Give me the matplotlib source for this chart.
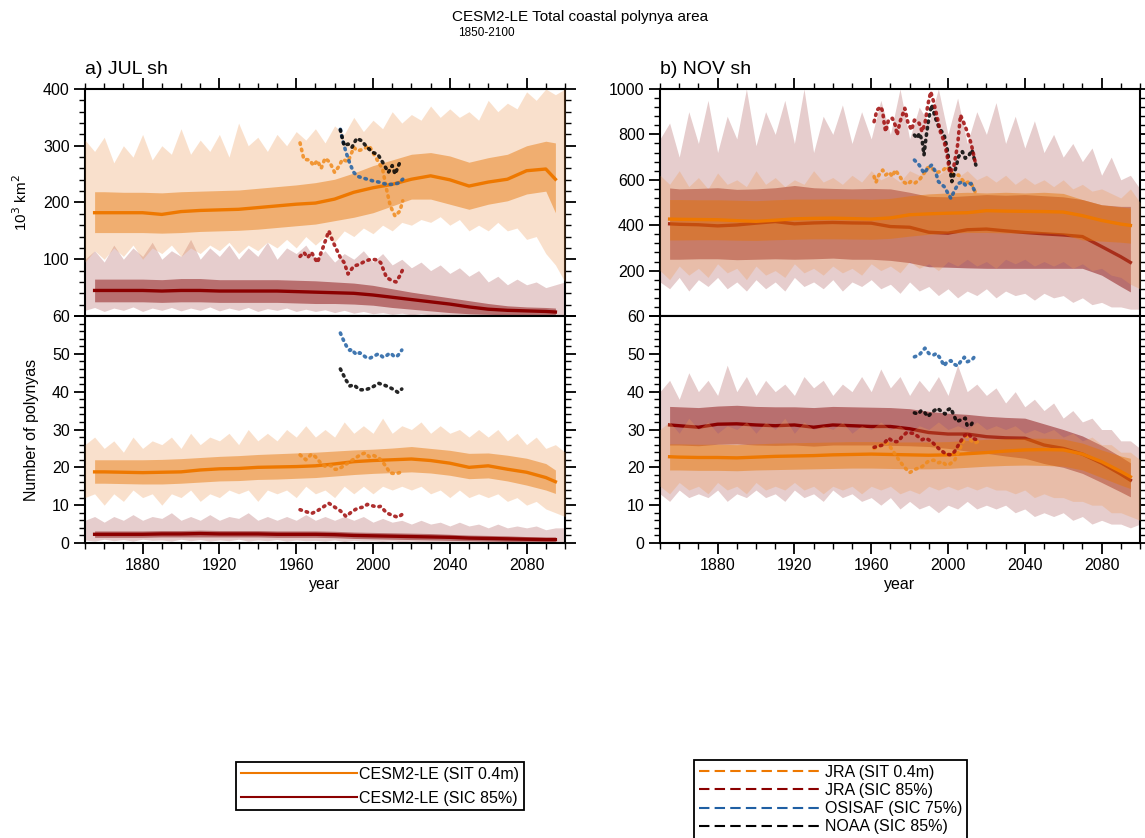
import matplotlib
matplotlib.use('Agg')
import matplotlib.pyplot as plt
from matplotlib.lines import Line2D
from matplotlib.ticker import MultipleLocator

plt.rcParams['font.family'] = ['Liberation Sans', 'DejaVu Sans']

# ---------------- 数据 ----------------
# 平滑后的集合平均 / 四分位带 (年份)
yrs_mean = [1855, 1860, 1870, 1880, 1890, 1900, 1910, 1920, 1930, 1940, 1950, 1960,
            1970, 1980, 1990, 2000, 2010, 2020, 2030, 2040, 2050, 2060, 2070, 2080, 2090, 2095]
# 最小/最大包络 (每5年)
yrs_env = list(range(1850, 2101, 5))

# a) JUL 面积
a_area_sit_mean = [182, 182, 182, 182, 179, 184, 186, 187, 188, 191, 194, 197,
                   199, 206, 218, 226, 232, 241, 247, 240, 229, 236, 241, 256, 259, 241]
a_area_sit_hi = [219, 219, 218, 218, 217, 219, 220, 221, 222, 225, 228, 231,
                 235, 241, 252, 265, 275, 285, 288, 282, 271, 279, 285, 300, 308, 305]
a_area_sit_lo = [147, 147, 147, 147, 146, 147, 149, 150, 151, 153, 156, 159,
                 162, 168, 174, 182, 194, 206, 206, 197, 188, 197, 203, 215, 220, 182]
a_area_sit_max = [310, 290, 315, 270, 300, 280, 320, 275, 300, 285,
                  330, 285, 310, 290, 320, 280, 340, 300, 315, 290,
                  320, 300, 325, 310, 330, 305, 335, 320, 350, 325,
                  345, 330, 360, 340, 355, 345, 370, 350, 365, 350,
                  360, 345, 380, 360, 375, 365, 395, 380, 400, 390,
                  400]
a_area_sit_min = [95, 115, 100, 120, 105, 125, 100, 120, 110, 125,
                  105, 120, 110, 125, 115, 130, 110, 125, 115, 130,
                  120, 135, 120, 140, 125, 140, 130, 150, 140, 155,
                  145, 160, 150, 165, 160, 170, 165, 175, 160, 170,
                  150, 160, 150, 165, 150, 155, 135, 140, 110, 90,
                  60]
a_area_sic_mean = [45, 45, 45, 45, 44, 45, 45, 44, 44, 44, 44, 43,
                   42, 41, 40, 37, 33, 29, 25, 21, 16, 12, 10, 9, 8, 7]
a_area_sic_hi = [65, 65, 65, 65, 64, 66, 66, 64, 64, 64, 64, 63,
                 62, 60, 58, 54, 48, 42, 37, 32, 27, 22, 18, 16, 15, 14]
a_area_sic_lo = [25, 25, 25, 25, 24, 25, 25, 24, 24, 24, 24, 23,
                 22, 22, 21, 19, 15, 12, 9, 6, 4, 3, 2, 2, 1, 1]
a_area_sic_max = [100, 115, 95, 125, 100, 120, 105, 130, 100, 115,
                  105, 135, 100, 120, 105, 125, 100, 120, 105, 130,
                  100, 120, 110, 125, 100, 115, 95, 110, 100, 115,
                  95, 110, 90, 100, 85, 95, 80, 90, 75, 85,
                  70, 80, 60, 70, 55, 65, 55, 60, 50, 55,
                  60]
a_area_sic_min = [10, 15, 8, 14, 10, 16, 8, 14, 10, 15,
                  9, 14, 10, 16, 9, 14, 10, 15, 8, 13,
                  10, 14, 8, 12, 8, 11, 6, 10, 5, 8,
                  4, 6, 3, 5, 2, 4, 2, 3, 1, 2,
                  1, 2, 1, 1, 0, 1, 0, 1, 0, 1,
                  0]

# a) JUL 个数
a_num_sit_mean = [18.8, 18.8, 18.7, 18.6, 18.7, 18.8, 19.3, 19.6, 19.7, 20.0, 20.1, 20.2,
                  20.4, 20.9, 21.5, 21.8, 22.0, 22.2, 21.8, 21.1, 20.0, 20.4, 19.5, 18.7, 17.3, 16.2]
a_num_sit_hi = [22.0, 22.0, 22.0, 22.0, 22.1, 22.3, 22.6, 22.9, 23.1, 23.4, 23.6, 23.8,
                24.0, 24.3, 24.6, 24.8, 25.1, 25.5, 25.0, 24.5, 23.7, 23.8, 23.2, 22.4, 21.0, 19.3]
a_num_sit_lo = [15.8, 15.8, 15.7, 15.6, 15.6, 15.8, 16.1, 16.4, 16.5, 16.8, 16.9, 17.1,
                17.3, 17.7, 18.1, 18.4, 18.6, 18.8, 18.5, 17.9, 17.0, 17.2, 16.4, 15.3, 14.0, 13.1]
a_num_sit_max = [26, 28, 25, 27, 24, 28, 25, 27, 26, 28,
                 25, 29, 26, 28, 27, 29, 26, 30, 27, 29,
                 27, 30, 28, 31, 28, 30, 28, 32, 29, 31,
                 29, 33, 29, 31, 30, 32, 29, 31, 29, 30,
                 28, 30, 28, 30, 27, 29, 26, 28, 25, 26,
                 24]
a_num_sit_min = [12, 13, 10, 13, 11, 14, 12, 13, 10, 13,
                 12, 14, 11, 13, 12, 14, 13, 14, 11, 14,
                 13, 14, 12, 15, 13, 14, 12, 15, 13, 15,
                 13, 15, 14, 15, 14, 15, 13, 14, 12, 14,
                 12, 13, 12, 13, 11, 12, 10, 11, 9, 8,
                 7]
a_num_sic_mean = [2.3, 2.3, 2.3, 2.3, 2.4, 2.4, 2.5, 2.4, 2.4, 2.4, 2.3, 2.3,
                  2.3, 2.2, 2.0, 1.9, 1.8, 1.7, 1.6, 1.5, 1.3, 1.2, 1.1, 1.0, 0.9, 0.9]
a_num_sic_hi = [3.2, 3.2, 3.2, 3.2, 3.3, 3.3, 3.4, 3.3, 3.3, 3.3, 3.2, 3.2,
                3.2, 3.1, 2.9, 2.8, 2.7, 2.6, 2.5, 2.3, 2.1, 2.0, 1.9, 1.7, 1.6, 1.6]
a_num_sic_lo = [1.5, 1.5, 1.5, 1.5, 1.6, 1.6, 1.6, 1.6, 1.6, 1.6, 1.5, 1.5,
                1.5, 1.4, 1.2, 1.1, 1.0, 0.9, 0.8, 0.7, 0.6, 0.5, 0.4, 0.4, 0.3, 0.3]
a_num_sic_max = [6, 7, 5.5, 7, 6, 7.5, 6, 7, 6.5, 8,
                 6, 7, 6, 7.5, 6, 7, 6.5, 8, 6, 7,
                 6, 7, 6, 7.5, 6, 7, 6, 7, 6, 7,
                 5.5, 6.5, 5.5, 6, 5, 6, 5, 5.5, 4.5, 5.5,
                 4.5, 5, 4, 5, 4, 4.5, 4, 4.5, 3.5, 4,
                 4]
a_num_sic_min = [0.8, 0.5, 1.0, 0.6, 0.9, 0.5, 1.0, 0.7, 0.8, 0.5,
                 1.0, 0.6, 0.9, 0.5, 0.8, 0.6, 1.0, 0.5, 0.8, 0.6,
                 0.9, 0.5, 0.8, 0.6, 0.7, 0.5, 0.8, 0.4, 0.7, 0.5,
                 0.6, 0.4, 0.6, 0.3, 0.5, 0.3, 0.4, 0.2, 0.4, 0.2,
                 0.3, 0.2, 0.3, 0.1, 0.2, 0.1, 0.2, 0.1, 0.1, 0.0,
                 0.1]

# b) NOV 面积
b_area_sit_mean = [427, 426, 425, 424, 420, 417, 422, 428, 430, 431, 429, 427,
                   432, 446, 450, 453, 455, 464, 462, 461, 460, 458, 442, 421, 405, 399]
b_area_sit_hi = [513, 513, 512, 512, 510, 508, 512, 515, 515, 516, 516, 514,
                 518, 530, 538, 542, 545, 542, 545, 542, 545, 540, 513, 490, 480, 476]
b_area_sit_lo = [335, 335, 336, 336, 334, 333, 336, 338, 340, 340, 339, 338,
                 342, 352, 360, 365, 368, 368, 366, 365, 365, 360, 335, 330, 325, 321]
b_area_sit_max = [620, 580, 640, 570, 610, 560, 630, 580, 600, 570,
                  640, 580, 610, 570, 600, 580, 640, 590, 610, 580,
                  620, 590, 640, 600, 620, 590, 640, 620, 660, 620,
                  650, 610, 640, 600, 620, 590, 620, 580, 610, 580,
                  600, 570, 600, 560, 580, 550, 560, 540, 520, 560,
                  500]
b_area_sit_min = [200, 160, 220, 180, 210, 170, 230, 190, 210, 160,
                  220, 180, 200, 170, 230, 190, 210, 180, 220, 190,
                  210, 180, 230, 200, 220, 190, 240, 210, 230, 200,
                  240, 220, 250, 220, 240, 210, 250, 230, 250, 220,
                  240, 220, 240, 210, 230, 200, 210, 180, 170, 140,
                  120]
b_area_sic_mean = [406, 404, 402, 397, 401, 409, 416, 406, 410, 412, 410, 409,
                   394, 391, 369, 365, 380, 383, 375, 368, 362, 357, 350, 306, 261, 236]
b_area_sic_hi = [564, 560, 562, 565, 558, 560, 565, 575, 565, 562, 560, 562,
                 560, 545, 527, 525, 530, 535, 532, 535, 530, 525, 513, 490, 483, 483]
b_area_sic_lo = [250, 250, 252, 252, 248, 250, 252, 250, 252, 255, 250, 250,
                 245, 235, 217, 215, 212, 210, 210, 210, 210, 210, 210, 180, 130, 106]
b_area_sic_max = [780, 850, 700, 900, 760, 950, 720, 880, 780, 1000,
                  750, 900, 800, 950, 760, 1000, 720, 880, 800, 930,
                  760, 900, 780, 950, 800, 1000, 780, 920, 850, 1000,
                  800, 960, 760, 900, 800, 940, 760, 880, 740, 860,
                  720, 800, 700, 760, 680, 740, 620, 700, 600, 620,
                  560]
b_area_sic_min = [150, 120, 170, 110, 160, 130, 170, 120, 150, 110,
                  160, 120, 150, 110, 170, 130, 150, 120, 160, 110,
                  150, 130, 160, 120, 140, 100, 150, 110, 130, 90,
                  120, 80, 110, 90, 120, 80, 110, 90, 100, 70,
                  100, 80, 90, 60, 80, 50, 60, 40, 40, 30,
                  30]

# b) NOV 个数
b_num_sit_mean = [22.8, 22.7, 22.6, 22.6, 22.5, 22.7, 22.9, 23.0, 23.1, 23.3, 23.4, 23.5,
                  23.4, 23.3, 23.2, 23.3, 23.6, 23.9, 24.3, 24.6, 24.7, 24.6, 23.5, 21.5, 18.9, 17.5]
b_num_sit_hi = [26.2, 26.2, 26.1, 26.1, 26.0, 26.2, 26.4, 26.5, 26.6, 26.7, 26.8, 26.8,
                26.7, 26.7, 26.7, 26.8, 27.1, 27.4, 27.6, 27.7, 27.7, 27.5, 26.4, 24.6, 23.0, 22.4]
b_num_sit_lo = [19.3, 19.3, 19.2, 19.2, 19.1, 19.3, 19.4, 19.5, 19.6, 19.7, 19.8, 19.8,
                19.7, 19.6, 19.6, 19.7, 20.0, 20.3, 20.5, 20.6, 20.5, 20.3, 19.3, 17.3, 15.3, 14.4]
b_num_sit_max = [30, 32, 29, 33, 30, 32, 29, 31, 30, 32,
                 29, 32, 30, 33, 29, 32, 30, 31, 30, 32,
                 29, 31, 30, 32, 30, 31, 29, 31, 30, 32,
                 30, 31, 30, 32, 30, 31, 30, 31, 29, 30,
                 29, 30, 28, 29, 27, 28, 26, 26, 24, 24,
                 22]
b_num_sit_min = [15, 13, 16, 14, 15, 13, 16, 14, 15, 13,
                 16, 14, 15, 14, 16, 14, 15, 13, 15, 14,
                 15, 13, 15, 14, 15, 13, 14, 13, 15, 14,
                 15, 14, 15, 14, 15, 14, 14, 13, 14, 12,
                 13, 12, 12, 11, 11, 10, 10, 8, 8, 7,
                 6]
b_num_sic_mean = [31.2, 31.0, 30.6, 31.4, 31.5, 31.2, 31.0, 31.2, 30.6, 31.2, 31.0, 30.8,
                  30.8, 30.2, 29.2, 28.8, 28.8, 28.1, 27.8, 27.7, 25.9, 25.0, 23.5, 21.1, 18.2, 16.6]
b_num_sic_hi = [36.1, 36.0, 35.8, 36.2, 36.4, 36.1, 36.0, 36.0, 35.8, 36.1, 36.0, 35.9,
                35.8, 35.5, 34.8, 34.3, 34.0, 33.5, 33.2, 33.0, 31.5, 30.0, 28.3, 25.8, 22.8, 21.2]
b_num_sic_lo = [25.9, 25.9, 25.7, 26.1, 26.2, 25.9, 25.8, 25.9, 25.6, 25.9, 25.9, 25.9,
                25.8, 25.7, 25.5, 25.0, 24.3, 23.7, 23.0, 22.4, 21.0, 20.0, 18.4, 16.0, 13.5, 12.2]
b_num_sic_max = [40, 43, 38, 45, 40, 43, 39, 47, 40, 44,
                 39, 43, 40, 42, 39, 44, 41, 43, 39, 42,
                 40, 44, 40, 46, 41, 44, 39, 43, 40, 44,
                 39, 47, 40, 42, 39, 41, 37, 40, 36, 38,
                 35, 37, 33, 35, 32, 33, 30, 30, 27, 27,
                 25]
b_num_sic_min = [13, 11, 14, 12, 13, 12, 14, 11, 13, 12,
                 14, 12, 13, 11, 14, 12, 13, 11, 14, 12,
                 13, 11, 12, 10, 12, 9, 11, 9, 10, 8,
                 10, 9, 11, 9, 10, 9, 10, 8, 9, 7,
                 8, 7, 8, 6, 7, 5, 6, 5, 5, 4,
                 5]

# 观测 / 再分析
a_area_jra_sit_yr = [1962, 1964, 1967, 1969, 1971, 1973, 1975, 1977.5, 1980, 1982.5, 1984, 1987,
                     1990, 1992, 1995, 1998, 2000, 2002, 2005, 2007, 2009, 2011.5, 2014, 2015.5]
a_area_jra_sit = [305, 276, 275, 265, 274, 260, 278, 271, 253, 265, 276, 272,
                  297, 291, 294, 300, 288, 276, 259, 224, 194, 176, 185, 203]
a_area_jra_sic_yr = [1962, 1964, 1966, 1968, 1971, 1974, 1977, 1979, 1980.5, 1983, 1985, 1987,
                     1990, 1993, 1996, 1999, 2002, 2004, 2007, 2010, 2012, 2014, 2015.5]
a_area_jra_sic = [105, 112, 103, 112, 94, 121, 150, 132, 121, 103, 94, 74,
                  88, 91, 97, 100, 99, 94, 68, 62, 60, 71, 82]
a_area_osi_yr = [1983, 1984, 1986, 1988, 1990, 1992, 1996, 2000, 2003, 2007, 2010.5, 2013, 2015.5]
a_area_osi = [329, 312, 288, 268, 253, 246, 242, 238, 236, 232, 232, 234, 241]
a_area_noaa_yr = [1983, 1985, 1987, 1989, 1991.5, 1994, 1997, 2000, 2002.5, 2005, 2008, 2010,
                  2011.5, 2014, 2015]
a_area_noaa = [328, 300, 303, 297, 313, 309, 297, 288, 285, 271, 253, 265, 250, 271, 272]

a_num_osi_yr = list(range(1983, 2016))
a_num_osi = [55.5, 54.3, 53.2, 52.2, 51.3, 50.9, 51.2, 50.5, 50.0, 49.8,
             50.3, 50.0, 49.6, 49.2, 48.9, 48.8, 49.0, 49.3, 49.5, 49.8,
             50.0, 49.6, 49.2, 49.1, 49.5, 49.9, 50.2, 49.8, 49.3, 49.2,
             49.6, 50.2, 51.0]
a_num_noaa_yr = [1983, 1984, 1986, 1988, 1990, 1993, 1996, 1999, 2003, 2006, 2008, 2011, 2013, 2015]
a_num_noaa = [46, 45, 43, 41.5, 41.8, 40.5, 40.5, 41, 42.2, 41.7, 41.3, 40.5, 39.8, 40.7]
a_num_jra_sit_yr = [1962, 1965, 1968, 1970, 1973, 1975, 1978, 1980, 1982, 1985, 1988, 1991,
                    1994, 1996, 1998, 2000, 2003, 2005, 2007, 2009, 2012, 2015]
a_num_jra_sit = [23.3, 22, 23.5, 22.8, 21, 20.3, 20.5, 19.5, 19.5, 20.5, 21.5, 22.5,
                 23.5, 23.8, 22.8, 23.2, 22.5, 21.5, 20, 18.5, 18.3, 18.8]
a_num_jra_sic_yr = [1962, 1965, 1968, 1971, 1974, 1977, 1980, 1983, 1986, 1989, 1992, 1995,
                    1997, 2000, 2002, 2004, 2007, 2010, 2013, 2015]
a_num_jra_sic = [8.8, 8.3, 7.8, 8.5, 9.5, 10.5, 9.5, 8.5, 7, 8.3, 9.2, 9.5,
                 10.2, 9.8, 9.5, 9.7, 8, 7.3, 6.8, 7.5]

b_area_jra_sic_yr = [1961.5, 1963, 1965, 1966, 1966.5, 1967.5, 1969, 1971, 1972.5, 1973.5,
                     1975, 1977.5, 1979, 1981, 1982.5, 1985, 1986.5, 1988, 1989.5, 1991,
                     1992.5, 1994.5, 1996, 1998, 1999.5, 2001, 2003, 2005, 2006.5, 2008,
                     2010, 2012, 2013, 2014.5]
b_area_jra_sic = [856, 907, 922, 900, 863, 812, 863, 871, 841, 797,
                  856, 915, 856, 819, 863, 849, 812, 849, 930, 988,
                  944, 871, 812, 768, 709, 629, 658, 753, 885, 856,
                  812, 761, 724, 665]
b_area_noaa_yr = [1982.5, 1984, 1985, 1986.5, 1987.5, 1988.5, 1990, 1991.5, 1993.5, 1995.5,
                  1998, 1999.5, 2001, 2002, 2004, 2005.5, 2007.5, 2009, 2011, 2012.5, 2014.5]
b_area_noaa = [797, 783, 805, 775, 709, 783, 871, 930, 871, 827,
               797, 739, 651, 592, 651, 702, 724, 695, 709, 731, 665]
b_area_osi_yr = [1982.5, 1985, 1987.5, 1989.5, 1991.5, 1993.5, 1995, 1998, 2000.5, 2001.5,
                 2003.5, 2005.5, 2007.5, 2009, 2012, 2014.5]
b_area_osi = [687, 665, 629, 651, 665, 636, 592, 570, 533, 518, 555, 584, 592, 577, 584, 540]
b_area_jra_sit_yr = [1961.5, 1962.5, 1964, 1966, 1967.5, 1969.5, 1971, 1972.5, 1975, 1976.5,
                     1979, 1980.5, 1982.5, 1985, 1987, 1989, 1991, 1992.5, 1994.5, 1997,
                     1999.5, 2001.5, 2003, 2005.5, 2007.5, 2009, 2011, 2012.5, 2014.5]
b_area_jra_sit = [614, 589, 621, 643, 621, 633, 614, 643, 614, 592,
                  580, 592, 584, 599, 621, 651, 658, 643, 633, 639,
                  658, 636, 621, 621, 599, 584, 592, 577, 540]

b_num_osi_yr = [1982.5, 1985, 1988, 1990, 1992.5, 1994, 1996, 1998, 1999.5, 2001.5,
                2003, 2005, 2006.5, 2008.5, 2010, 2012.5, 2014.5]
b_num_osi = [49.2, 49.7, 51.5, 50.1, 49.7, 50.1, 48.8, 46.8, 47.9, 48.2,
             47.3, 46.8, 47.9, 49.1, 47.9, 48.4, 49.7]
b_num_noaa_yr = [1982.5, 1984.5, 1986, 1988, 1989.5, 1992, 1994.5, 1996, 1998.5, 1999.5,
                 2001.5, 2003, 2004.5, 2006.5, 2009, 2010, 2012, 2013.5]
b_num_noaa = [34.4, 34.1, 35, 34.4, 33.4, 34.7, 35.6, 35, 34.1, 35.1,
              35.6, 33.8, 32.1, 32.5, 33, 31, 31.2, 32.5]
b_num_jra_sic_yr = [1961.5, 1966, 1969, 1971.5, 1974, 1976, 1978.5, 1981.5, 1984, 1986.5,
                    1988.5, 1991.5, 1994, 1996, 1999, 2001.5, 2003.5, 2006, 2008.5, 2010.5,
                    2012.5, 2015]
b_num_jra_sic = [25.3, 25.9, 27.7, 26.8, 26.8, 28.1, 29.2, 29, 28.3, 27.3,
                 27.7, 26.8, 25.5, 24.6, 23.5, 23.3, 24.2, 26.4, 28.3, 29,
                 27.7, 27.3]
b_num_jra_sit_yr = [1961.5, 1965, 1968.5, 1971, 1974.5, 1977, 1980, 1983, 1986.5, 1989.5,
                    1992.5, 1995, 1997, 1999, 2001, 2003.5, 2005.5, 2007.5, 2009.5, 2011.5,
                    2014, 2015.5]
b_num_jra_sit = [25, 25.9, 26.4, 24.6, 21.9, 20.2, 18.6, 19.5, 20.2, 21.5,
                 21.9, 21.2, 21.5, 20.6, 20.9, 21.9, 24.2, 26.4, 28.3, 27.3,
                 26.4, 26.8]

# 颜色
SIT_LINE = '#EE7800'
SIC_LINE = '#8B0000'
SIT_LIGHT = (238/255, 155/255, 88/255)
SIC_LIGHT = (184/255, 112/255, 112/255)
SIT_DARK = (231/255, 115/255, 0)
SIC_DARK = (150/255, 40/255, 40/255)
OBS_JRA_SIT = '#F08A1C'
OBS_JRA_SIC = '#A00A0A'
OBS_OSI = '#1F5FA3'
OBS_NOAA = '#000000'

W, H = 1145, 838
FS = 11.5  # 刻度 / 图例字号


def style_axis(ax, top_panel, ymax, major, minor, labels):
    ax.set_xlim(1850, 2100)
    ax.set_ylim(0, ymax)
    ax.xaxis.set_major_locator(MultipleLocator(40))
    ax.xaxis.set_minor_locator(MultipleLocator(10))
    ax.set_yticks(list(range(0, ymax + 1, major)))
    ax.set_yticklabels(labels)
    ax.yaxis.set_minor_locator(MultipleLocator(minor))
    ax.tick_params(which='both', direction='out', left=True, right=True,
                   top=top_panel, bottom=not top_panel, labelbottom=not top_panel,
                   labelsize=FS, pad=3)
    ax.tick_params(which='major', length=8, width=1.3)
    ax.tick_params(which='minor', length=4, width=1.0)
    for s in ax.spines.values():
        s.set_linewidth(1.5)


def draw_model(ax, sic, sit):
    # sic / sit: (最小, 最大, 下四分位, 上四分位, 平均)
    ax.fill_between(yrs_env, sic[0], sic[1], color=SIC_LIGHT, alpha=0.35, lw=0, zorder=1)
    ax.fill_between(yrs_mean, sic[2], sic[3], color=SIC_DARK, alpha=0.57, lw=0, zorder=2)
    ax.plot(yrs_mean, sic[4], color=SIC_LINE, lw=2.4, zorder=3)
    ax.fill_between(yrs_env, sit[0], sit[1], color=SIT_LIGHT, alpha=0.3, lw=0, zorder=4)
    ax.fill_between(yrs_mean, sit[2], sit[3], color=SIT_DARK, alpha=0.45, lw=0, zorder=5)
    ax.plot(yrs_mean, sit[4], color=SIT_LINE, lw=2.4, zorder=6)


def draw_obs(ax, series):
    for x, y, c in series:
        ax.plot(x, y, color=c, lw=2.6, alpha=0.85, linestyle=(0, (0.4, 1.4)),
                dash_capstyle='round', zorder=10)


fig = plt.figure(figsize=(W / 100, H / 100), dpi=100)

lefts = [85, 660]
pw, ph = 480, 227
axes = []
for left in lefts:
    ax_t = fig.add_axes([left / W, 1 - 316 / H, pw / W, ph / H])
    ax_b = fig.add_axes([left / W, 1 - 543 / H, pw / W, ph / H])
    axes.append((ax_t, ax_b))

# a) JUL
ax_t, ax_b = axes[0]
draw_model(ax_t,
           (a_area_sic_min, a_area_sic_max, a_area_sic_lo, a_area_sic_hi, a_area_sic_mean),
           (a_area_sit_min, a_area_sit_max, a_area_sit_lo, a_area_sit_hi, a_area_sit_mean))
draw_obs(ax_t, [(a_area_jra_sit_yr, a_area_jra_sit, OBS_JRA_SIT),
                (a_area_jra_sic_yr, a_area_jra_sic, OBS_JRA_SIC),
                (a_area_osi_yr, a_area_osi, OBS_OSI),
                (a_area_noaa_yr, a_area_noaa, OBS_NOAA)])
draw_model(ax_b,
           (a_num_sic_min, a_num_sic_max, a_num_sic_lo, a_num_sic_hi, a_num_sic_mean),
           (a_num_sit_min, a_num_sit_max, a_num_sit_lo, a_num_sit_hi, a_num_sit_mean))
draw_obs(ax_b, [(a_num_jra_sit_yr, a_num_jra_sit, OBS_JRA_SIT),
                (a_num_jra_sic_yr, a_num_jra_sic, OBS_JRA_SIC),
                (a_num_osi_yr, a_num_osi, OBS_OSI),
                (a_num_noaa_yr, a_num_noaa, OBS_NOAA)])
style_axis(ax_t, True, 400, 100, 20, ['', '100', '200', '300', '400'])
style_axis(ax_b, False, 60, 10, 2, ['0', '10', '20', '30', '40', '50', '60'])
ax_t.set_ylabel(r'10$^3$ km$^2$', fontsize=11)
ax_t.yaxis.set_label_coords(-0.115, 0.5)
ax_b.set_ylabel('Number of polynyas', fontsize=11.5)
ax_b.yaxis.set_label_coords(-0.095, 0.5)
ax_b.set_xlabel('year', fontsize=FS, labelpad=3)
ax_t.set_title('a) JUL sh', loc='left', fontsize=14, pad=11)

# b) NOV
ax_t, ax_b = axes[1]
draw_model(ax_t,
           (b_area_sic_min, b_area_sic_max, b_area_sic_lo, b_area_sic_hi, b_area_sic_mean),
           (b_area_sit_min, b_area_sit_max, b_area_sit_lo, b_area_sit_hi, b_area_sit_mean))
draw_obs(ax_t, [(b_area_jra_sit_yr, b_area_jra_sit, OBS_JRA_SIT),
                (b_area_osi_yr, b_area_osi, OBS_OSI),
                (b_area_noaa_yr, b_area_noaa, OBS_NOAA),
                (b_area_jra_sic_yr, b_area_jra_sic, OBS_JRA_SIC)])
draw_model(ax_b,
           (b_num_sic_min, b_num_sic_max, b_num_sic_lo, b_num_sic_hi, b_num_sic_mean),
           (b_num_sit_min, b_num_sit_max, b_num_sit_lo, b_num_sit_hi, b_num_sit_mean))
draw_obs(ax_b, [(b_num_jra_sit_yr, b_num_jra_sit, OBS_JRA_SIT),
                (b_num_jra_sic_yr, b_num_jra_sic, OBS_JRA_SIC),
                (b_num_osi_yr, b_num_osi, OBS_OSI),
                (b_num_noaa_yr, b_num_noaa, OBS_NOAA)])
style_axis(ax_t, True, 1000, 200, 40, ['', '200', '400', '600', '800', '1000'])
style_axis(ax_b, False, 60, 10, 2, ['0', '10', '20', '30', '40', '50', '60'])
ax_b.set_xlabel('year', fontsize=FS, labelpad=3)
ax_t.set_title('b) NOV sh', loc='left', fontsize=14, pad=11)

# 总标题
fig.text(580 / W, 1 - 17 / H, 'CESM2-LE Total coastal polynya area', ha='center', va='center', fontsize=11)
fig.text(486 / W, 1 - 33 / H, '1850-2100', ha='center', va='center', fontsize=8.5)

# 图例
h1 = [Line2D([], [], color=SIT_LINE, lw=1.5), Line2D([], [], color=SIC_LINE, lw=1.5)]
leg1 = fig.legend(h1, ['CESM2-LE (SIT 0.4m)', 'CESM2-LE (SIC 85%)'],
                  loc='upper left', bbox_to_anchor=(236 / W, 1 - 762 / H),
                  fontsize=FS, handlelength=7.3, handletextpad=0.1, labelspacing=0.55,
                  borderpad=0.3, borderaxespad=0, fancybox=False, framealpha=1,
                  edgecolor='black')
leg1.get_frame().set_linewidth(1.3)

h2 = [Line2D([], [], color=c, lw=1.5, linestyle=(0, (5, 2.5)))
      for c in [SIT_LINE, SIC_LINE, OBS_OSI, OBS_NOAA]]
leg2 = fig.legend(h2, ['JRA (SIT 0.4m)', 'JRA (SIC 85%)', 'OSISAF (SIC 75%)', 'NOAA (SIC 85%)'],
                  loc='upper left', bbox_to_anchor=(694 / W, 1 - 760 / H),
                  fontsize=FS, handlelength=7.5, handletextpad=0.4, labelspacing=0.2,
                  borderpad=0.3, borderaxespad=0, fancybox=False, framealpha=1,
                  edgecolor='black')
leg2.get_frame().set_linewidth(1.3)

plt.savefig('out.png', dpi=100)
plt.close()
